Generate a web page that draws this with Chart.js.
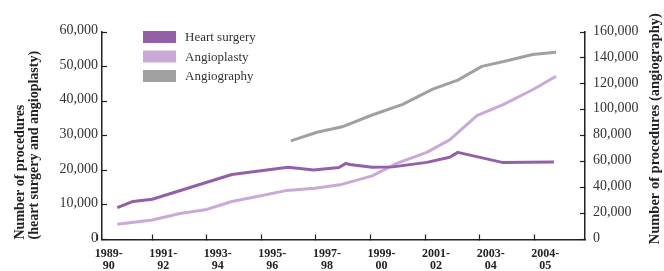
<!DOCTYPE html>
<html>
<head>
<meta charset="utf-8">
<script src="https://cdn.jsdelivr.net/npm/chart.js@4/dist/chart.umd.min.js"></script>
<style>
  html, body { margin: 0; padding: 0; background: #ffffff; }
  #wrap { width: 664px; height: 271px; }
</style>
</head>
<body>
<div id="wrap"><canvas id="c" width="664" height="271"></canvas></div>
<script>
// ---- data (x = position along the period axis, in label units) ----
const periodLabels = ['1989-90', '1991-92', '1993-94', '1995-96', '1997-98', '1999-00', '2001-02', '2003-04', '2004-05'];
const periodTicks = [0, 1, 2, 3, 4, 5, 6, 7, 8];

const heartX = [0.36, 0.65, 1.00, 2.46, 3.49, 3.96, 4.42, 4.55, 4.62, 5.03, 5.41, 6.03, 6.45, 6.60, 7.41, 8.36];
const heartY = [9200, 11000, 11650, 18800, 20900, 20100, 20800, 22000, 21700, 20900, 21000, 22300, 23800, 25200, 22300, 22400];

const angioplastyX = [0.36, 1.00, 1.51, 2.00, 2.46, 2.97, 3.47, 3.98, 4.44, 5.03, 5.48, 6.03, 6.45, 6.95, 7.43, 7.97, 8.40];
const angioplastyY = [4400, 5650, 7500, 8700, 11000, 12600, 14200, 14800, 15800, 18400, 22000, 25200, 28800, 35800, 39000, 43300, 47200];

const angiographyX = [3.54, 4.02, 4.48, 5.03, 5.59, 6.14, 6.60, 7.04, 7.46, 7.97, 8.40];
const angiographyY = [76000, 82700, 86900, 96000, 104200, 115900, 122900, 133500, 137400, 142600, 144400];

const seriesNames = ['Heart surgery', 'Angioplasty', 'Angiography'];
const seriesColors = ['#9360a8', '#c9aad6', '#a0a0a3'];

const leftTitle = ['Number of procedures', '(heart surgery and angioplasty)'];
const rightTitle = 'Number of procedures (angiography)';

const pts = (xs, ys) => xs.map((x, i) => ({ x: x, y: ys[i] }));
const serif = "'Liberation Serif', 'DejaVu Serif', serif";
const axisColor = '#222222';

const legendPlugin = {
  id: 'innerLegend',
  afterDraw(chart) {
    const ctx = chart.ctx;
    ctx.save();
    ctx.font = '13px ' + serif;
    ctx.textBaseline = 'middle';
    ctx.textAlign = 'left';
    chart.data.datasets.forEach((ds, i) => {
      const cy = 37 + i * 19.5;
      ctx.fillStyle = ds.borderColor;
      ctx.fillRect(143, cy - 6, 33, 12);
      ctx.fillStyle = '#333333';
      ctx.fillText(ds.label, 185, cy + 1);
    });
    ctx.restore();
  }
};

const rightTitlePlugin = {
  id: 'rightTitle',
  afterDraw(chart) {
    const ctx = chart.ctx;
    const s = chart.scales.y2;
    ctx.save();
    ctx.font = 'bold 14.5px ' + serif;
    ctx.fillStyle = '#222222';
    ctx.textAlign = 'center';
    ctx.textBaseline = 'middle';
    ctx.translate(s.right - 9, (s.top + s.bottom) / 2 - 7);
    ctx.rotate(-Math.PI / 2);
    ctx.fillText(rightTitle, 0, 0);
    ctx.restore();
  }
};

new Chart(document.getElementById('c'), {
  type: 'line',
  data: {
    datasets: [
      { label: seriesNames[0], data: pts(heartX, heartY), yAxisID: 'y', borderColor: seriesColors[0], backgroundColor: seriesColors[0] },
      { label: seriesNames[1], data: pts(angioplastyX, angioplastyY), yAxisID: 'y', borderColor: seriesColors[1], backgroundColor: seriesColors[1] },
      { label: seriesNames[2], data: pts(angiographyX, angiographyY), yAxisID: 'y2', borderColor: seriesColors[2], backgroundColor: seriesColors[2] }
    ]
  },
  options: {
    responsive: false,
    animation: false,
    devicePixelRatio: 1,
    layout: { padding: { top: 32, left: 0, right: 0, bottom: 0 } },
    elements: {
      line: { borderWidth: 3, tension: 0, borderJoinStyle: 'round', borderCapStyle: 'butt', fill: false },
      point: { radius: 0, hoverRadius: 0 }
    },
    plugins: { legend: { display: false }, tooltip: { enabled: false } },
    scales: {
      x: {
        type: 'linear',
        position: 'bottom',
        min: 0.08,
        max: 8.93,
        afterBuildTicks: (scale) => { scale.ticks = periodTicks.map(v => ({ value: v })); },
        afterFit: (scale) => { scale.height = 31.5; },
        border: { display: true, color: axisColor, width: 1.5 },
        grid: { display: true, drawOnChartArea: false, drawTicks: true, tickLength: -5, tickColor: axisColor, tickWidth: 1.2 },
        ticks: {
          autoSkip: false,
          maxRotation: 0,
          minRotation: 0,
          labelOffset: 11,
          padding: 13,
          color: '#222222',
          font: { family: serif, size: 12, weight: 'bold', lineHeight: 1.0 },
          callback: (v, i) => {
            const lab = periodLabels[i];
            if (!lab) return '';
            const parts = lab.split('-');
            return [parts[0] + '-', parts[1]];
          }
        }
      },
      y: {
        type: 'linear',
        position: 'left',
        min: 0,
        max: 60000,
        afterFit: (scale) => { scale.width = 102; },
        border: { display: true, color: axisColor, width: 1.5 },
        grid: { display: true, drawOnChartArea: false, drawTicks: true, tickLength: -5, tickColor: axisColor, tickWidth: 1.2 },
        ticks: {
          stepSize: 10000,
          padding: 9,
          labelOffset: -1.5,
          color: '#333333',
          font: { family: serif, size: 14 },
          callback: (v) => Number(v).toLocaleString('en-US')
        },
        title: {
          display: true,
          text: leftTitle,
          align: 'start',
          color: '#222222',
          font: { family: serif, size: 14, weight: 'bold', lineHeight: 1.0 },
          padding: { top: 13, bottom: 0 }
        }
      },
      y2: {
        type: 'linear',
        position: 'right',
        min: 0,
        max: 160000,
        afterFit: (scale) => { scale.width = 79; },
        border: { display: true, color: axisColor, width: 1.5 },
        grid: { display: true, drawOnChartArea: false, drawTicks: true, tickLength: -5, tickColor: axisColor, tickWidth: 1.2 },
        ticks: {
          stepSize: 20000,
          padding: 13,
          labelOffset: -1,
          color: '#333333',
          font: { family: serif, size: 14 },
          callback: (v) => Number(v).toLocaleString('en-US')
        }
      }
    }
  },
  plugins: [legendPlugin, rightTitlePlugin]
});
</script>
</body>
</html>
